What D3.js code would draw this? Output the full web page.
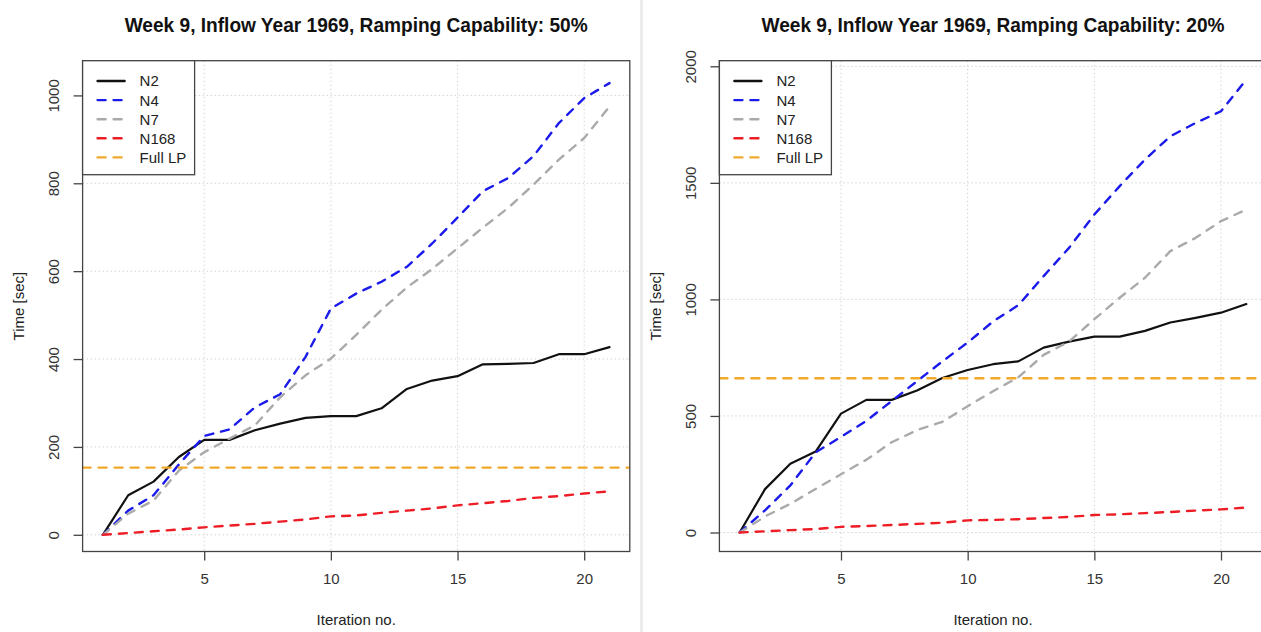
<html>
<head>
<meta charset="utf-8">
<script src="https://d3js.org/d3.v7.min.js"></script>
<style>
body { margin: 0; background: #fff; }
svg text { font-family: "Liberation Sans", Arial, sans-serif; }
.title { font-weight: bold; font-size: 20px; fill: #111; }
.tick text { font-size: 15px; fill: #333; }
.axislabel { font-size: 15px; fill: #222; }
.legend text { font-size: 15px; fill: #222; }
.grid line { stroke: #d4d4d4; stroke-width: 1; stroke-dasharray: 1.5,2.5; }
</style>
</head>
<body>
<script>

// iteration numbers (x axis)
var iterations = [1, 2, 3, 4, 5, 6, 7, 8, 9, 10, 11, 12, 13, 14, 15, 16, 17, 18, 19, 20, 21];
var xTicks = [5, 10, 15, 20];

// ramping capability 50%
var rc50_N2   = [0, 90, 121, 177, 216, 216, 238, 253, 266, 270, 270, 288, 332, 351, 361, 388, 389, 391, 411, 411, 427];
var rc50_N4   = [0, 55, 90, 160, 225, 240, 290, 320, 405, 515, 549, 576, 610, 663, 722, 782, 812, 862, 937, 994, 1028];
var rc50_N7   = [0, 48, 78, 146, 188, 219, 249, 313, 363, 401, 455, 512, 563, 605, 652, 699, 744, 797, 854, 903, 975];
var rc50_N168 = [0, 4, 8, 12, 17, 21, 25, 30, 35, 42, 44, 50, 55, 60, 67, 72, 77, 84, 88, 94, 99];
var rc50_FullLP = 153;
var rc50_yTicks = [0, 200, 400, 600, 800, 1000];

// ramping capability 20%
var rc20_N2   = [0, 186, 295, 347, 510, 569, 569, 609, 663, 697, 722, 734, 793, 819, 840, 840, 865, 901, 921, 943, 980];
var rc20_N4   = [0, 95, 202, 344, 410, 479, 564, 649, 734, 815, 905, 975, 1100, 1221, 1364, 1486, 1600, 1700, 1757, 1807, 1943];
var rc20_N7   = [0, 69, 123, 187, 250, 312, 387, 439, 475, 542, 606, 666, 762, 819, 915, 1007, 1093, 1207, 1264, 1336, 1385];
var rc20_N168 = [0, 5, 10, 15, 24, 28, 32, 37, 42, 52, 54, 57, 62, 67, 75, 78, 83, 88, 94, 99, 107];
var rc20_FullLP = 662;
var rc20_yTicks = [0, 500, 1000, 1500, 2000];

var seriesNames = ["N2", "N4", "N7", "N168", "Full LP"];
var seriesColors = ["#111111", "#1a1aeb", "#aaaaaa", "#ee1c25", "#f2a92a"];

var W = 1261, H = 632;
var svg = d3.select("body").append("svg")
    .attr("width", W)
    .attr("height", H);

svg.append("rect").attr("width", W).attr("height", H).attr("fill", "#fff");
// thin divider between the two screenshots
svg.append("rect").attr("x", 640).attr("y", 0).attr("width", 3).attr("height", H).attr("fill", "#ebebeb");

function drawPanel(cfg) {
    var left = cfg.left, right = cfg.left + 547.2, top = 60.7, bottom = 551.5;

    var x = d3.scaleLinear().domain([0.2, 21.8]).range([left, right]);
    var y = d3.scaleLinear().domain(cfg.yDomain).range([bottom, top]);

    var clipId = "clip" + cfg.id;
    svg.append("clipPath").attr("id", clipId)
      .append("rect")
        .attr("x", left).attr("y", top)
        .attr("width", right - left).attr("height", bottom - top);

    // title
    svg.append("text")
        .attr("class", "title")
        .attr("x", (left + right) / 2)
        .attr("y", 32)
        .attr("text-anchor", "middle")
        .attr("textLength", 463)
        .attr("lengthAdjust", "spacingAndGlyphs")
        .text(cfg.title);

    // grid
    var grid = svg.append("g").attr("class", "grid");
    grid.selectAll("line.v").data(xTicks).enter().append("line")
        .attr("x1", function(d) { return x(d); }).attr("x2", function(d) { return x(d); })
        .attr("y1", top).attr("y2", bottom);
    grid.selectAll("line.h").data(cfg.yTicks).enter().append("line")
        .attr("x1", left).attr("x2", right)
        .attr("y1", function(d) { return y(d); }).attr("y2", function(d) { return y(d); });

    // axes
    var xAxis = svg.append("g")
        .attr("transform", "translate(0," + bottom + ")")
        .call(d3.axisBottom(x).tickValues(xTicks).tickSizeInner(9).tickSizeOuter(0).tickPadding(9));
    var yAxis = svg.append("g")
        .attr("transform", "translate(" + left + ",0)")
        .call(d3.axisLeft(y).tickValues(cfg.yTicks).tickSizeInner(9).tickSizeOuter(0).tickFormat(d3.format("d")));
    [xAxis, yAxis].forEach(function(a) {
        a.select(".domain").remove();
        a.selectAll(".tick line").attr("stroke", "#444").attr("stroke-width", 1.3);
    });
    xAxis.selectAll(".tick text").attr("dy", "0.95em");
    yAxis.selectAll(".tick text")
        .attr("x", null).attr("dy", "0.35em")
        .attr("text-anchor", "middle")
        .attr("transform", "translate(-28.5,0) rotate(-90)");

    // axis titles
    svg.append("text")
        .attr("class", "axislabel")
        .attr("x", (left + right) / 2)
        .attr("y", 625)
        .attr("text-anchor", "middle")
        .text("Iteration no.");
    svg.append("text")
        .attr("class", "axislabel")
        .attr("text-anchor", "middle")
        .attr("transform", "translate(" + (left - 64) + "," + ((top + bottom) / 2) + ") rotate(-90)")
        .attr("dy", "0.35em")
        .text("Time [sec]");

    // series
    var plot = svg.append("g").attr("clip-path", "url(#" + clipId + ")");
    var line = d3.line()
        .x(function(d, i) { return x(iterations[i]); })
        .y(function(d) { return y(d); });

    cfg.series.forEach(function(s, k) {
        plot.append("path")
            .datum(s)
            .attr("d", line)
            .attr("fill", "none")
            .attr("stroke", seriesColors[k])
            .attr("stroke-width", k == 0 ? 2.2 : 2.4)
            .attr("stroke-linecap", "round")
            .attr("stroke-linejoin", "round")
            .attr("stroke-dasharray", k == 0 ? null : "8,8");
    });

    // full LP reference
    plot.append("line")
        .attr("x1", left).attr("x2", right)
        .attr("y1", y(cfg.fullLP)).attr("y2", y(cfg.fullLP))
        .attr("stroke", seriesColors[4])
        .attr("stroke-width", 2.4)
        .attr("stroke-linecap", "round")
        .attr("stroke-dasharray", "8,8");

    // box
    svg.append("rect")
        .attr("x", left).attr("y", top)
        .attr("width", right - left).attr("height", bottom - top)
        .attr("fill", "none").attr("stroke", "#444").attr("stroke-width", 1.3);

    // legend
    var lg = svg.append("g").attr("class", "legend");
    lg.append("rect")
        .attr("x", left).attr("y", top)
        .attr("width", 112).attr("height", 114)
        .attr("fill", "#fff").attr("stroke", "#444").attr("stroke-width", 1.3);
    seriesNames.forEach(function(name, k) {
        var ly = 81 + k * 19.1;
        lg.append("line")
            .attr("x1", left + 15).attr("x2", left + 42)
            .attr("y1", ly).attr("y2", ly)
            .attr("stroke", seriesColors[k])
            .attr("stroke-width", 2.4)
            .attr("stroke-linecap", "round")
            .attr("stroke-dasharray", k == 0 ? null : "8,8");
        lg.append("text")
            .attr("x", left + 57)
            .attr("y", ly)
            .attr("dy", "0.36em")
            .text(name);
    });
}

drawPanel({
    id: 1,
    left: 82.6,
    title: "Week 9, Inflow Year 1969, Ramping Capability: 50%",
    yDomain: [-38, 1079],
    yTicks: rc50_yTicks,
    series: [rc50_N2, rc50_N4, rc50_N7, rc50_N168],
    fullLP: rc50_FullLP
});

drawPanel({
    id: 2,
    left: 719.4,
    title: "Week 9, Inflow Year 1969, Ramping Capability: 20%",
    yDomain: [-81.5, 2024],
    yTicks: rc20_yTicks,
    series: [rc20_N2, rc20_N4, rc20_N7, rc20_N168],
    fullLP: rc20_FullLP
});

</script>
</body>
</html>
